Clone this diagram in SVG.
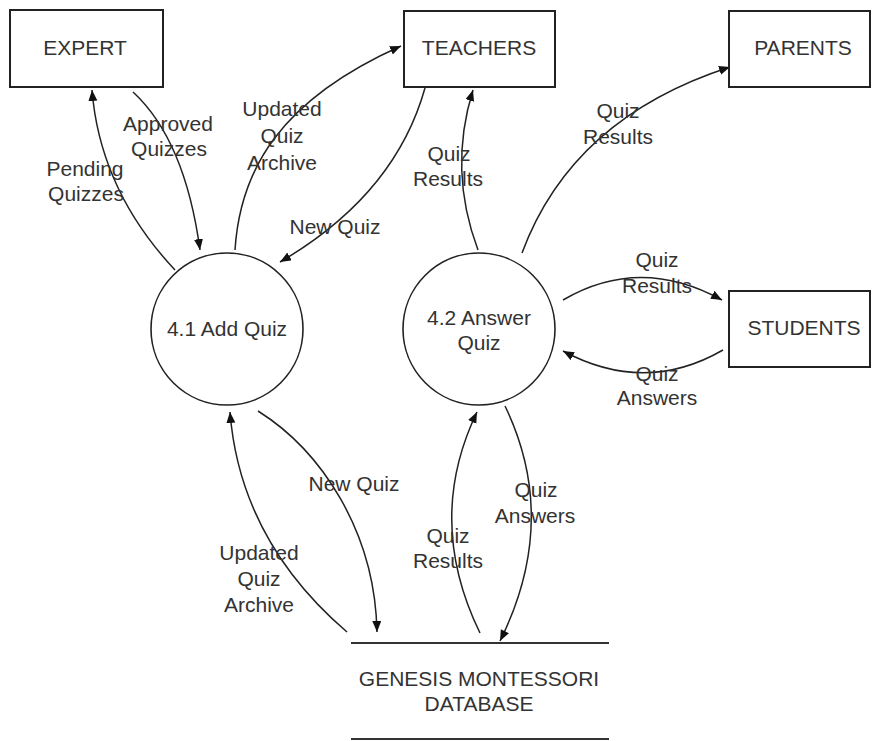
<svg xmlns="http://www.w3.org/2000/svg" width="872" height="741" viewBox="0 0 872 741">
<defs>
<style>
.box{fill:#fff;stroke:#222;stroke-width:2}
.proc{fill:#fff;stroke:#222;stroke-width:1.6}
.ln{fill:none;stroke:#222;stroke-width:1.5;marker-end:url(#ah)}
.db{stroke:#333;stroke-width:2}
text{font-family:"Liberation Sans",Arial,sans-serif;font-size:21px;fill:#333;text-anchor:middle;dominant-baseline:central}
</style>
<marker id="ah" markerWidth="13" markerHeight="10" refX="11" refY="4.5" orient="auto" markerUnits="userSpaceOnUse">
<path d="M0,0 L11,4.5 L0,9 z" fill="#111"/>
</marker>
</defs>
<rect width="872" height="741" fill="#fff"/>
<g id="connectors">
<path class="ln" d="M175,270 Q100,190 92,90"/>
<path class="ln" d="M133,92 Q185,140 200,250"/>
<path class="ln" d="M235,250 C240,170 280,100 401,46"/>
<path class="ln" d="M425,88 Q395,195 280,262"/>
<path class="ln" d="M478,250 Q448,170 473,90"/>
<path class="ln" d="M522,253 Q572,118 730,67"/>
<path class="ln" d="M563,300 Q640,255 722,300"/>
<path class="ln" d="M723,350 Q645,395 563,351"/>
<path class="ln" d="M258,411 C320,450 375,530 377,632"/>
<path class="ln" d="M347,632 Q240,540 230,412"/>
<path class="ln" d="M480,633 Q425,520 477,412"/>
<path class="ln" d="M505,406 Q560,520 500,641"/>
</g>
<g id="labels">
<text x="168" y="123">Approved</text>
<text x="169" y="148">Quizzes</text>
<text x="85" y="168">Pending</text>
<text x="86" y="193">Quizzes</text>
<text x="282" y="108">Updated</text>
<text x="282" y="135">Quiz</text>
<text x="282" y="162">Archive</text>
<text x="335" y="226">New Quiz</text>
<text x="449" y="153">Quiz</text>
<text x="448" y="178">Results</text>
<text x="618" y="110">Quiz</text>
<text x="618" y="136">Results</text>
<text x="657" y="259">Quiz</text>
<text x="657" y="285">Results</text>
<text x="657" y="373">Quiz</text>
<text x="657" y="397">Answers</text>
<text x="354" y="483">New Quiz</text>
<text x="259" y="552">Updated</text>
<text x="259" y="578">Quiz</text>
<text x="259" y="604">Archive</text>
<text x="448" y="535">Quiz</text>
<text x="448" y="560">Results</text>
<text x="536" y="489">Quiz</text>
<text x="535" y="515">Answers</text>
</g>
<g id="expert"><rect class="box" x="10" y="10" width="153" height="77"/><text x="85" y="47">EXPERT</text></g>
<g id="teachers"><rect class="box" x="404" y="11" width="151" height="76"/><text x="479" y="47">TEACHERS</text></g>
<g id="parents"><rect class="box" x="729" y="11" width="141" height="76"/><text x="803" y="47">PARENTS</text></g>
<g id="students"><rect class="box" x="729" y="291" width="141" height="76"/><text x="804" y="327">STUDENTS</text></g>
<g id="p41"><circle class="proc" cx="227" cy="329" r="76"/><text x="227" y="328">4.1 Add Quiz</text></g>
<g id="p42"><circle class="proc" cx="479" cy="329" r="76"/><text x="479" y="317">4.2 Answer</text><text x="479" y="342">Quiz</text></g>
<g id="database">
<line class="db" x1="351" y1="643" x2="609" y2="643"/>
<line class="db" x1="351" y1="739" x2="609" y2="739"/>
<text x="479" y="678">GENESIS MONTESSORI</text>
<text x="479" y="703">DATABASE</text>
</g>
</svg>
